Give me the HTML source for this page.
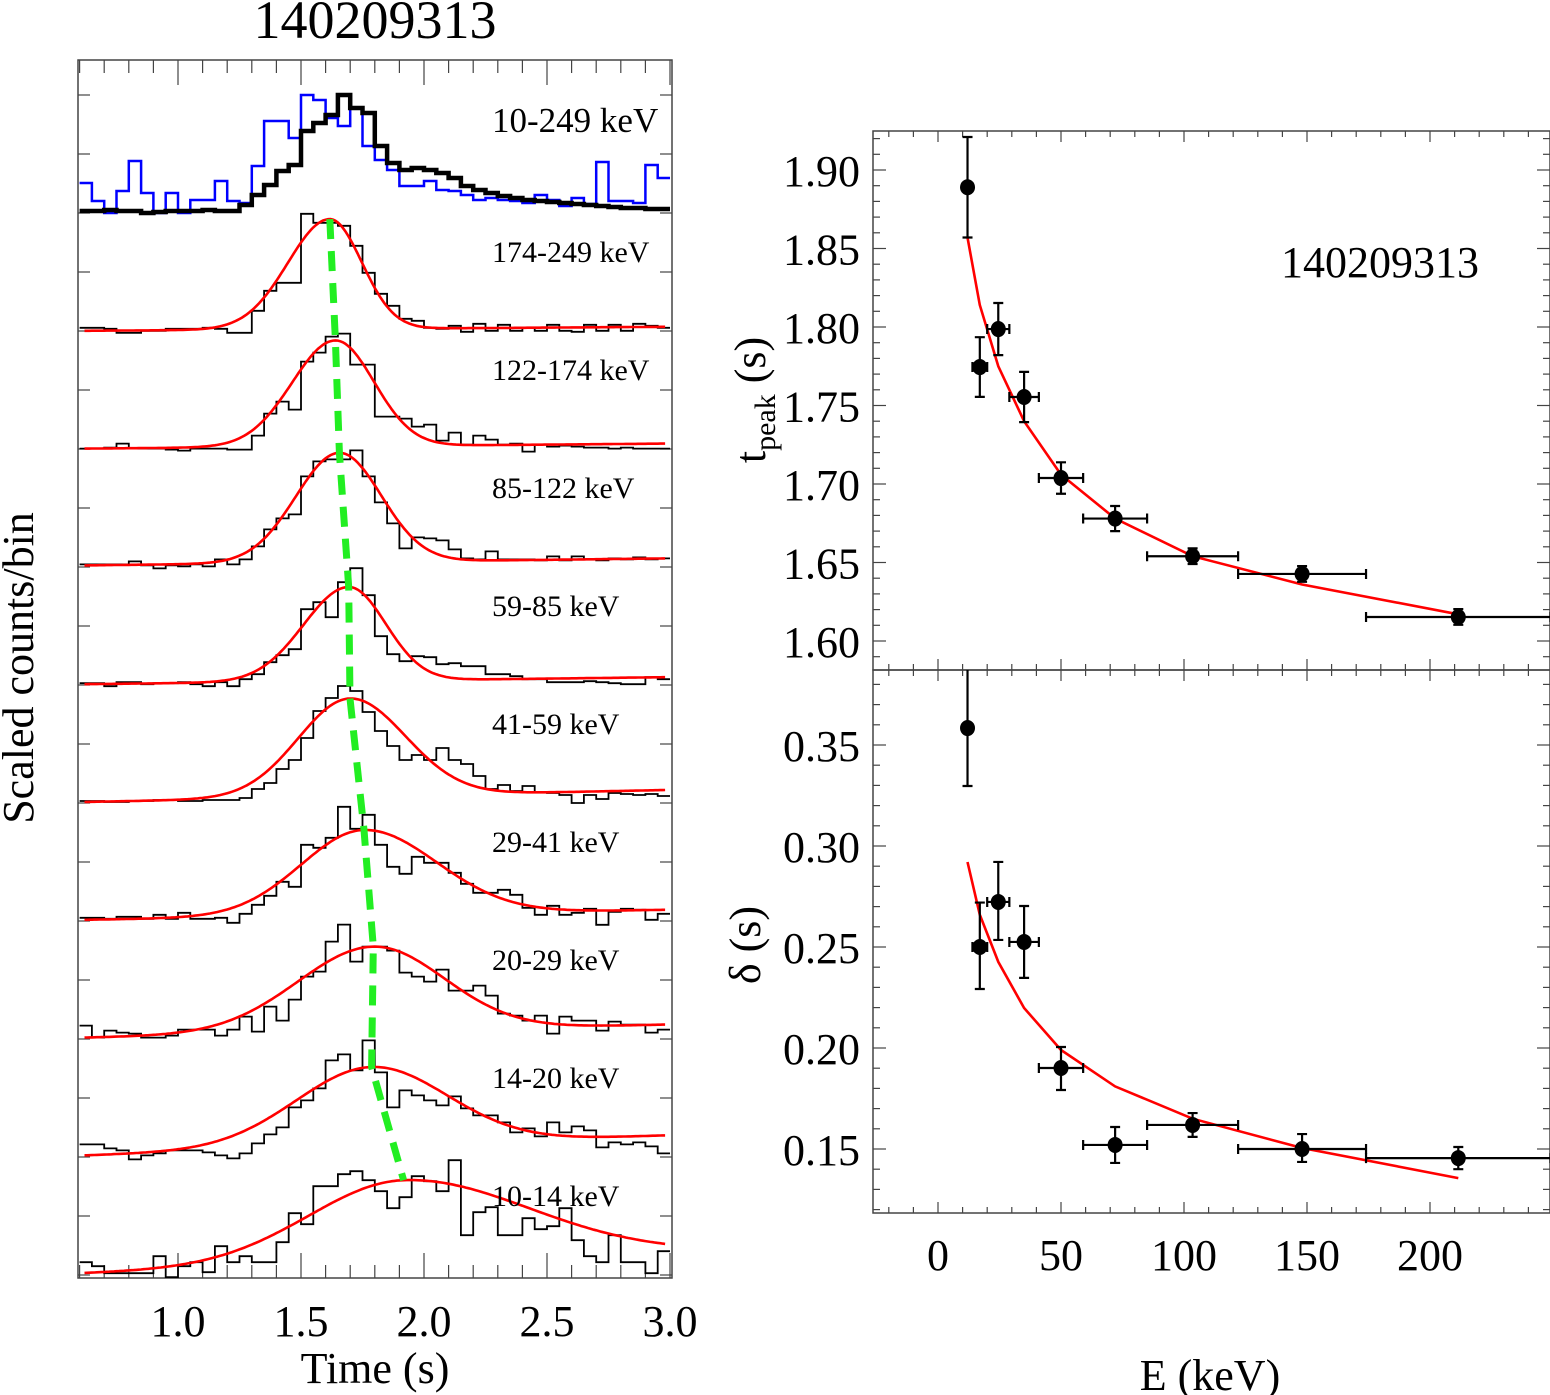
<!DOCTYPE html>
<html><head><meta charset="utf-8"><style>
html,body{margin:0;padding:0;background:#fff;}
svg{display:block;font-family:"Liberation Serif",serif;}
</style></head><body>
<svg id="fig" width="1550" height="1395" viewBox="0 0 1550 1395" xmlns="http://www.w3.org/2000/svg">
<defs>
<clipPath id="clipL"><rect x="78" y="60" width="594" height="1218"/></clipPath>
<clipPath id="clipT"><rect x="873" y="131" width="677" height="539"/></clipPath>
<clipPath id="clipB"><rect x="873" y="670" width="677" height="543"/></clipPath>
</defs>
<text x="375" y="38" font-size="54" text-anchor="middle">140209313</text>
<g id="left"></g>
<g id="right"></g>
<text x="375" y="1383" font-size="44" text-anchor="middle">Time (s)</text>
<text transform="translate(33,668) rotate(-90)" font-size="44" text-anchor="middle">Scaled counts/bin</text>
<text transform="translate(765,400) rotate(-90)" font-size="44" text-anchor="middle">t<tspan font-size="30" dy="10">peak</tspan><tspan dy="-10"> (s)</tspan></text>
<text transform="translate(760,945) rotate(-90)" font-size="44" text-anchor="middle">δ (s)</text>
<text x="1210" y="1390" font-size="44" text-anchor="middle">E (keV)</text>
<text x="1281" y="277" font-size="44">140209313</text>
</svg>
<script>
// ---------- left panel data ----------
const bandLabels = ["10-249 keV","174-249 keV","122-174 keV","85-122 keV","59-85 keV","41-59 keV","29-41 keV","20-29 keV","14-20 keV","10-14 keV"];
const binStart = 0.6;
const binWidth = 0.05;
const totalCounts = [2,2,3,2,2,0,1,2,2,2,3,2,2,8,18,28,42,48,82,90,98,118,105,100,67,50,43,45,43,40,35,27,23,20,17,15,13,12,11,10,9,8,7,6,5,5,4,4];
const blueCounts = [30,12,0,22,52,20,0,20,0,13,13,32,12,10,47,92,92,75,118,113,95,87,105,67,53,43,27,27,32,23,22,18,13,15,13,12,10,18,13,7,15,9,51,12,12,10,48,35];
const band1 = [3,3,2,-2,-2,0,0,2,2,2,3,2,-2,-2,20,40,48,48,117,108,108,105,85,58,37,25,12,10,3,2,5,-1,7,0,6,0,3,0,6,0,-1,6,0,6,0,7,5,3];
const band2 = [0,0,1,5,0,0,0,-1,-2,0,0,0,-1,-1,13,35,47,39,87,96,112,115,84,84,32,32,30,22,24,8,16,4,13,9,4,5,-3,4,2,3,2,1,1,0,1,0,0,0];
const band3 = [2,2,2,2,5,1,-2,1,0,2,0,7,2,7,20,37,48,52,90,105,107,107,116,90,64,43,18,29,28,26,17,8,7,15,7,7,7,6,10,6,10,7,6,8,7,9,7,8];
const band4 = [1,1,-2,2,2,0,1,1,2,0,-2,2,-2,5,10,22,29,35,75,82,67,102,116,89,48,30,23,28,27,20,21,18,18,10,10,8,5,5,2,2,2,3,2,1,0,0,7,5];
const band5 = [1,1,0,0,1,1,2,2,1,1,2,2,2,4,13,19,33,42,64,91,104,116,111,90,71,56,42,47,42,54,42,38,26,13,17,11,16,10,9,7,-1,7,3,9,8,7,8,6];
const band6 = [2,2,1,3,3,1,5,1,7,1,1,2,-3,6,15,24,38,33,75,72,82,113,91,105,75,53,46,63,57,57,47,36,27,27,30,25,12,5,14,5,7,11,-5,8,11,10,0,6];
const band7 = [12,0,7,5,4,0,0,2,8,8,8,2,8,21,6,31,17,38,61,66,96,113,76,91,91,87,65,61,56,68,47,47,52,42,24,22,17,22,4,21,17,17,7,16,13,13,5,8];
const band8 = [11,11,7,5,-4,0,2,5,5,5,3,0,-3,2,12,21,28,48,55,67,95,101,85,115,83,48,65,60,55,50,59,47,40,40,33,23,27,19,33,23,29,25,8,13,11,13,9,2];
const band9 = [11,7,0,0,0,0,17,-4,7,11,1,27,11,17,11,11,31,60,49,87,87,99,102,93,82,65,76,97,92,82,113,38,61,66,38,38,55,44,47,65,33,17,11,38,11,11,0,22];
// fit parameters per band (bands 1..9): peak time, amplitude, rise sigma, decay sigma, baseline left, baseline right
const fitPeak = [1.617,1.640,1.656,1.694,1.699,1.756,1.794,1.787,1.917];
const fitAmp = [110,106,109.5,94,98,85,84.5,78.5,82];
const fitRise = [0.17,0.176,0.177,0.183,0.21,0.255,0.307,0.307,0.386];
const fitDecay = [0.13,0.157,0.17,0.15,0.225,0.295,0.288,0.307,0.51];
const fitBaseL = [0,0,1,0,0,0,0,0,0];
const fitBaseR = [4,5,8,7,12,10,13,20,20];
const timeTicks = [1.0,1.5,2.0,2.5,3.0];
const timeTickLabels = ["1.0","1.5","2.0","2.5","3.0"];

// ---------- right panel data ----------
const eLow = [10,14,20,29,41,59,85,122,174];
const eHigh = [14,20,29,41,59,85,122,174,249];
const eCenter = [12,17,24.5,35,50,72,103.5,148,211.5];
const tPeak = [1.889,1.7745,1.7987,1.7554,1.7038,1.678,1.654,1.6427,1.6153];
const tPeakErr = [0.032,0.019,0.0166,0.016,0.010,0.008,0.005,0.005,0.005];
const tPeakFit = [1.857,1.814,1.775,1.740,1.706,1.678,1.654,1.636,1.617];
const delta = [0.3584,0.25,0.2723,0.2525,0.1901,0.152,0.1619,0.150,0.1455];
const deltaLo = [0.3297,0.2292,0.2535,0.2347,0.1792,0.1431,0.156,0.1436,0.140];
const deltaHi = [0.40,0.272,0.2921,0.2703,0.2005,0.1609,0.1678,0.1574,0.151];
const deltaFit = [0.2921,0.266,0.2426,0.2198,0.199,0.181,0.165,0.1505,0.1356];
const eTicks = [0,50,100,150,200];
const tTicks = [1.90,1.85,1.80,1.75,1.70,1.65,1.60];
const dTicks = [0.35,0.30,0.25,0.20,0.15];

const NS = "http://www.w3.org/2000/svg";
function mk(tag, attrs, parent){
  const e = document.createElementNS(NS, tag);
  for (const k in attrs) e.setAttribute(k, attrs[k]);
  parent.appendChild(e);
  return e;
}
const L = document.getElementById('left');
const R = document.getElementById('right');

// axis functions
const tx = t => 178 + (t - 1) * 246;
const stripBase = i => 213 + 117.8 * i;
const ex = E => 938 + E * 2.46;
const ty = v => 170 + (1.90 - v) * 1570;
const dy = v => 745 + (0.35 - v) * 2020;

// ---------- left frame ----------
let fr = mk('rect', {x:78, y:60, width:594, height:1218, fill:'none', stroke:'#444', 'stroke-width':1.5}, L);


for (let k = 0; k <= 24; k++) {
  const t = 0.6 + 0.1 * k;
  if (t > 3.001) break;
  const major = Math.abs(t * 2 - Math.round(t * 2)) < 1e-6;
  const x = tx(t);
  const len = major ? 25 : 13;
  let tk = mk('line', {x1:x, x2:x, y1:1278, y2:1278 - len, stroke:'#444', 'stroke-width':1.2}, L);
  
  
  let tk2 = mk('line', {x1:x, x2:x, y1:60, y2:60 + len, stroke:'#444', 'stroke-width':1.2}, L);
  
  
}
timeTicks.forEach((t, i) => {
  let tl = mk('text', {x:tx(t), y:1336, 'font-size':44, 'text-anchor':'middle'}, L);
  tl.textContent = timeTickLabels[i];
  
  
});
for (let y = 95; y < 1278; y += 59) {
  let a = mk('line', {x1:78, x2:90, y1:y, y2:y, stroke:'#444', 'stroke-width':1.2}, L);
  
  
  let b = mk('line', {x1:672, x2:660, y1:y, y2:y, stroke:'#444', 'stroke-width':1.2}, L);
  
  
}

const gClip = mk('g', {'clip-path':'url(#clipL)'}, L);



function histPath(arr, base) {
  let d = '';
  arr.forEach((v, k) => {
    const x0 = tx(binStart + k * binWidth), x1 = tx(binStart + (k + 1) * binWidth);
    const y = base - v;
    d += (k === 0 ? 'M' : 'L') + x0.toFixed(1) + ',' + y.toFixed(1) + 'L' + x1.toFixed(1) + ',' + y.toFixed(1);
  });
  return d;
}
const bands = [band1, band2, band3, band4, band5, band6, band7, band8, band9];

let blue = mk('path', {d:histPath(blueCounts, stripBase(0)), fill:'none', stroke:'#0000ff', 'stroke-width':2.5}, gClip);


let blk = mk('path', {d:histPath(totalCounts, stripBase(0)), fill:'none', stroke:'#000', 'stroke-width':4.5}, gClip);



function fitY(i, t) {
  const b = fitBaseL[i] + (fitBaseR[i] - fitBaseL[i]) * (t - 0.62) / 2.36;
  const s = t < fitPeak[i] ? fitRise[i] : fitDecay[i];
  return stripBase(i + 1) - b - fitAmp[i] * Math.exp(-Math.pow(t - fitPeak[i], 2) / (2 * s * s));
}
const greenPts = [];
bands.forEach((arr, i) => {
  let h = mk('path', {d:histPath(arr, stripBase(i + 1)), fill:'none', stroke:'#000', 'stroke-width':1.8}, gClip);
  
  
  let d = '';
  for (let t = 0.62; t <= 2.985; t += 0.01) d += (d ? 'L' : 'M') + tx(t).toFixed(1) + ',' + fitY(i, t).toFixed(1);
  let f = mk('path', {d:d, fill:'none', stroke:'#ff0000', 'stroke-width':2.6}, gClip);
  
  
  greenPts.push(tx(fitPeak[i]).toFixed(1) + ',' + fitY(i, fitPeak[i]).toFixed(1));
});
let gr = mk('polyline', {points:greenPts.join(' '), fill:'none', stroke:'#22ee22', 'stroke-width':7, 'stroke-dasharray':'20 12'}, gClip);



bandLabels.forEach((lab, i) => {
  let tl = mk('text', {x:492, y: i === 0 ? 132 : 262 + 118 * (i - 1), 'font-size': i === 0 ? 35 : 30}, L);
  tl.textContent = lab;
  
  
});

// ---------- right panels ----------
function frame(y0, y1, name) {
  let r = mk('rect', {x:873, y:y0, width:677, height:y1 - y0, fill:'none', stroke:'#444', 'stroke-width':1.5}, R);
  
  
  for (let E = -20; E <= 240; E += 10) {
    const x = ex(E);
    const len = E % 50 === 0 ? 11 : 6;
    let a = mk('line', {x1:x, x2:x, y1:y0, y2:y0 + len, stroke:'#444', 'stroke-width':1.2}, R);
    
    
    let b = mk('line', {x1:x, x2:x, y1:y1, y2:y1 - len, stroke:'#444', 'stroke-width':1.2}, R);
    
    
  }
}
frame(131, 670, 'tpeak-plot-frame');
frame(670, 1213, 'delta-plot-frame');
for (let k = 0; k <= 34; k++) {
  const v = 1.58 + 0.01 * k;
  const y = ty(v);
  if (y < 131 || y > 670) continue;
  const len = (Math.round(v * 100) % 5 === 0) ? 13 : 7;
  let a = mk('line', {x1:873, x2:873 + len, y1:y, y2:y, stroke:'#444', 'stroke-width':1.2}, R);
  
  
  let b = mk('line', {x1:1550, x2:1550 - len, y1:y, y2:y, stroke:'#444', 'stroke-width':1.2}, R);
  
  
}
for (let k = 0; k <= 30; k++) {
  const v = 0.11 + 0.01 * k;
  const y = dy(v);
  if (y < 670 || y > 1213) continue;
  const len = (Math.round(v * 100) % 5 === 0) ? 13 : 7;
  let a = mk('line', {x1:873, x2:873 + len, y1:y, y2:y, stroke:'#444', 'stroke-width':1.2}, R);
  
  
  let b = mk('line', {x1:1550, x2:1550 - len, y1:y, y2:y, stroke:'#444', 'stroke-width':1.2}, R);
  
  
}
tTicks.forEach(v => {
  let t = mk('text', {x:860, y:ty(v) + 16, 'font-size':44, 'text-anchor':'end'}, R);
  t.textContent = v.toFixed(2);
  
  
});
dTicks.forEach(v => {
  let t = mk('text', {x:860, y:dy(v) + 16, 'font-size':44, 'text-anchor':'end'}, R);
  t.textContent = v.toFixed(2);
  
  
});
eTicks.forEach(E => {
  let t = mk('text', {x:ex(E), y:1270, 'font-size':44, 'text-anchor':'middle'}, R);
  t.textContent = String(E);
  
  
});

function points(clip, yf, vals, lo, hi, fit, nm) {
  const g = mk('g', {'clip-path':clip}, R);
  
  
  let d = '';
  fit.forEach((v, i) => d += (i ? 'L' : 'M') + ex(eCenter[i]).toFixed(1) + ',' + yf(v).toFixed(1));
  let f = mk('path', {d:d, fill:'none', stroke:'#ff0000', 'stroke-width':2.6}, g);
  
  
  vals.forEach((v, i) => {
    const x = ex(eCenter[i]), y = yf(v);
    const ylo = yf(lo[i]), yhi = yf(hi[i]);
    const xl = ex(eLow[i]), xh = ex(eHigh[i]);
    const dd = `M${x},${ylo}L${x},${yhi}M${x-5},${ylo}L${x+5},${ylo}M${x-5},${yhi}L${x+5},${yhi}M${xl},${y}L${xh},${y}M${xl},${y-5}L${xl},${y+5}M${xh},${y-5}L${xh},${y+5}`;
    let e = mk('path', {d:dd, fill:'none', stroke:'#000', 'stroke-width':2.2}, g);
    
    
    let c = mk('ellipse', {cx:x, cy:y, rx:7.5, ry:8, fill:'#000'}, g);
    
    
  });
}
points('url(#clipT)', ty, tPeak, tPeak.map((v, i) => v - tPeakErr[i]), tPeak.map((v, i) => v + tPeakErr[i]), tPeakFit, 'tpeak');
points('url(#clipB)', dy, delta, deltaLo, deltaHi, deltaFit, 'delta');
</script>
</body></html>
